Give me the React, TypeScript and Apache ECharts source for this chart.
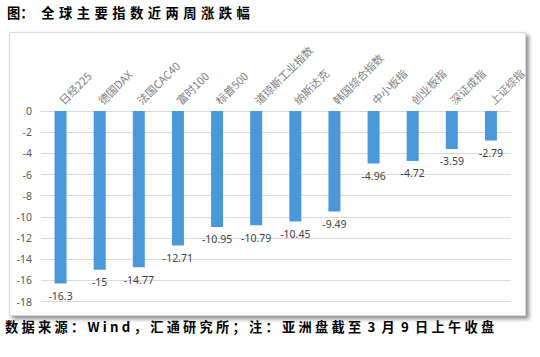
import React, { useEffect, useRef } from "react";
import * as echarts from "echarts";

const categories = ["日经225", "德国DAX", "法国CAC40", "富时100", "标普500", "道琼斯工业指数", "纳斯达克", "韩国综合指数", "中小板指", "创业板指", "深证成指", "上证综指"];
const changes = [-16.3, -15, -14.77, -12.71, -10.95, -10.79, -10.45, -9.49, -4.96, -4.72, -3.59, -2.79];
const G = "\u2005";
const T = "\u2004";
const titleText = ["图：", "全", "球", "主", "要", "指", "数", "近", "两", "周", "涨", "跌", "幅"].join(T).replace("图：", "图：" + G);
const footerText = ["数", "据", "来", "源", "：", "W", "i", "n", "d", "，", "汇", "通", "研", "究", "所", "；", "注", "：", "亚", "洲", "盘", "截", "至", " 3 ", "月", " 9 ", "日", "上", "午", "收", "盘"].join(G);

export default function App() {
  const ref = useRef<HTMLDivElement>(null);
  useEffect(() => {
    if (!ref.current) return;
    const chart = echarts.init(ref.current, null, { renderer: "svg" });
    chart.setOption({
      animation: false,
      backgroundColor: "#ffffff",
      graphic: [
        {
          type: "rect",
          z: -10,
          shape: { x: 9.5, y: 32.5, width: 516, height: 283 },
          style: {
            fill: "#ffffff",
            stroke: "#d9d9d9",
            lineWidth: 1,
            shadowColor: "rgba(0,0,0,0.45)",
            shadowBlur: 4,
            shadowOffsetX: 3,
            shadowOffsetY: 3,
          },
        },
        {
          type: "text",
          left: 7,
          top: 6,
          style: {
            text: titleText,
            fontSize: 13.3,
            fontWeight: "bold",
            fill: "#000000",
            fontFamily: "Noto Sans CJK SC",
          },
        },
        {
          type: "text",
          left: 5,
          top: 320,
          style: {
            text: footerText,
            fontSize: 13.2,
            fontWeight: "bold",
            fill: "#000000",
            fontFamily: "Noto Sans CJK SC",
          },
        },
      ],
      grid: { left: 41, right: 29.5, top: 111, bottom: 55.5, containLabel: false },
      xAxis: {
        type: "category",
        data: categories,
        position: "top",
        axisLine: { show: true, lineStyle: { color: "#d9d9d9" } },
        axisTick: { show: false },
        axisLabel: {
          interval: 0,
          rotate: 45,
          margin: 9,
          color: "#808080",
          fontSize: 11,
          fontFamily: "Noto Sans CJK SC",
        },
      },
      yAxis: {
        type: "value",
        min: -18,
        max: 0,
        interval: 2,
        axisLine: { show: false },
        axisTick: { show: false },
        splitLine: { lineStyle: { color: "#d9d9d9", width: 1 } },
        axisLabel: {
          margin: 9,
          color: "#595959",
          fontSize: 10.5,
          fontFamily: "Noto Sans",
        },
      },
      series: [
        {
          type: "bar",
          data: changes,
          barWidth: 12,
          itemStyle: { color: "#4a98d9" },
          label: {
            show: true,
            position: "bottom",
            distance: 7,
            color: "#404040",
            fontSize: 10.5,
            fontFamily: "Noto Sans",
          },
        },
      ],
    });
    return () => chart.dispose();
  }, []);
  return (
    <div
      ref={ref}
      style={{ position: "fixed", left: 0, top: 0, width: 540, height: 357 }}
    />
  );
}
